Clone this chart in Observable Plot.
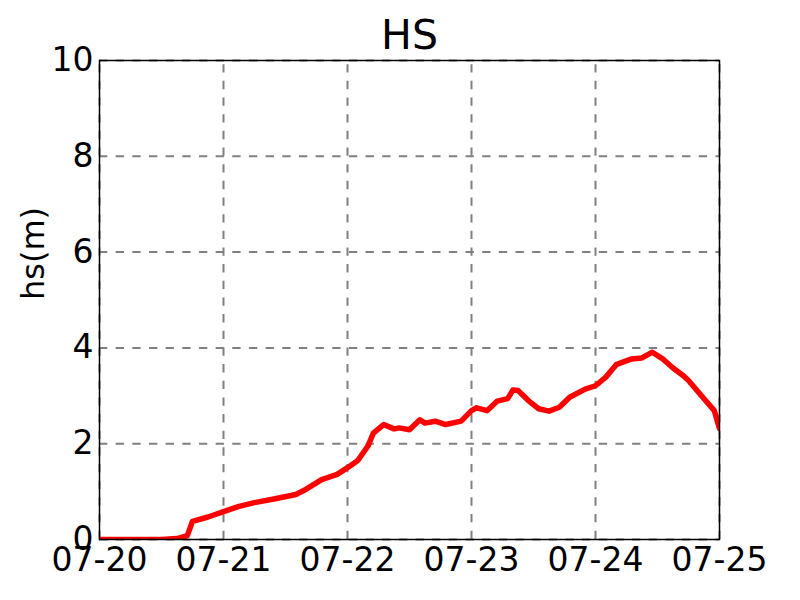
<!DOCTYPE html>
<html>
<head>
<meta charset="utf-8">
<script src="https://cdn.jsdelivr.net/npm/d3@7"></script>
<script src="https://cdn.jsdelivr.net/npm/@observablehq/plot@0.6"></script>
<style>
  html, body { margin: 0; padding: 0; background: white; }
</style>
</head>
<body>
<div id="chart"></div>
<script>
const times = [
  "2015-07-20T00:00Z","2015-07-20T06:00Z","2015-07-20T12:00Z","2015-07-20T15:00Z","2015-07-20T17:00Z",
  "2015-07-20T18:00Z","2015-07-20T21:00Z","2015-07-21T00:00Z","2015-07-21T03:00Z","2015-07-21T06:00Z",
  "2015-07-21T10:00Z","2015-07-21T14:00Z","2015-07-21T16:00Z","2015-07-21T19:00Z","2015-07-21T22:00Z",
  "2015-07-22T00:00Z","2015-07-22T02:00Z","2015-07-22T04:00Z","2015-07-22T05:00Z","2015-07-22T07:00Z",
  "2015-07-22T09:00Z","2015-07-22T10:00Z","2015-07-22T12:00Z","2015-07-22T14:00Z","2015-07-22T15:00Z",
  "2015-07-22T17:00Z","2015-07-22T19:00Z","2015-07-22T22:00Z","2015-07-23T00:00Z","2015-07-23T01:00Z",
  "2015-07-23T03:00Z","2015-07-23T05:00Z","2015-07-23T07:00Z","2015-07-23T08:00Z","2015-07-23T09:00Z",
  "2015-07-23T11:00Z","2015-07-23T13:00Z","2015-07-23T15:00Z","2015-07-23T17:00Z","2015-07-23T19:00Z",
  "2015-07-23T22:00Z","2015-07-24T00:00Z","2015-07-24T02:00Z","2015-07-24T04:00Z","2015-07-24T07:00Z",
  "2015-07-24T09:00Z","2015-07-24T11:00Z","2015-07-24T13:00Z","2015-07-24T15:00Z","2015-07-24T17:00Z",
  "2015-07-24T18:00Z","2015-07-24T21:00Z","2015-07-24T23:00Z","2015-07-25T00:00Z"
];
const hs = [
  0.00, 0.00, 0.00, 0.02, 0.08,
  0.38, 0.47, 0.58, 0.69, 0.77,
  0.85, 0.94, 1.05, 1.25, 1.36,
  1.50, 1.65, 1.96, 2.22, 2.40,
  2.31, 2.33, 2.29, 2.50, 2.43,
  2.47, 2.40, 2.47, 2.69, 2.75,
  2.69, 2.89, 2.94, 3.12, 3.11,
  2.90, 2.73, 2.68, 2.76, 2.97,
  3.14, 3.21, 3.39, 3.65, 3.77,
  3.79, 3.91, 3.77, 3.58, 3.42,
  3.32, 2.94, 2.69, 2.32
];
const xTicks = ["2015-07-20","2015-07-21","2015-07-22","2015-07-23","2015-07-24","2015-07-25"];
const yTicks = [0, 2, 4, 6, 8, 10];
const titleText = "HS";
const yLabel = "hs(m)";

const data = times.map((t, i) => ({date: new Date(t), hs: hs[i]}));
const xTickDates = xTicks.map(d => new Date(d + "T00:00Z"));
const xMin = xTickDates[0], xMax = xTickDates[xTickDates.length - 1];
const yMin = yTicks[0], yMax = yTicks[yTicks.length - 1];
const gridStyle = {stroke: "#808080", strokeOpacity: 1, strokeWidth: 2, strokeDasharray: "8.33,8.33"};

const chart = Plot.plot({
  width: 800,
  height: 600,
  marginLeft: 99,
  marginRight: 81,
  marginTop: 60,
  marginBottom: 61,
  style: {fontFamily: "DejaVu Sans", background: "white", color: "black"},
  x: {type: "utc", domain: [xMin, xMax]},
  y: {domain: [yMin, yMax]},
  marks: [
    Plot.ruleX(xTickDates, {x: d => d, y1: yMin, y2: yMax, ...gridStyle}),
    Plot.ruleY(yTicks, {y: d => d, x1: xMin, x2: xMax, ...gridStyle}),
    Plot.axisX(xTickDates, {tickFormat: d3.utcFormat("%m-%d"), tickSize: 0, tickPadding: 8, fontSize: 33, label: null}),
    Plot.axisY(yTicks, {tickSize: 0, tickPadding: 6, fontSize: 33, label: null}),
    Plot.line(data, {x: "date", y: "hs", stroke: "red", strokeWidth: 5.5, strokeLinejoin: "round", clip: true}),
    Plot.frame({stroke: "black", strokeWidth: 1.5}),
    Plot.text([titleText], {frameAnchor: "top", dy: -12, lineAnchor: "bottom", fontSize: 41, fill: "black"}),
    Plot.text([yLabel], {frameAnchor: "left", dx: -56, lineAnchor: "bottom", rotate: -90, fontSize: 32, fill: "black"})
  ]
});
document.getElementById("chart").appendChild(chart);
</script>
</body>
</html>
